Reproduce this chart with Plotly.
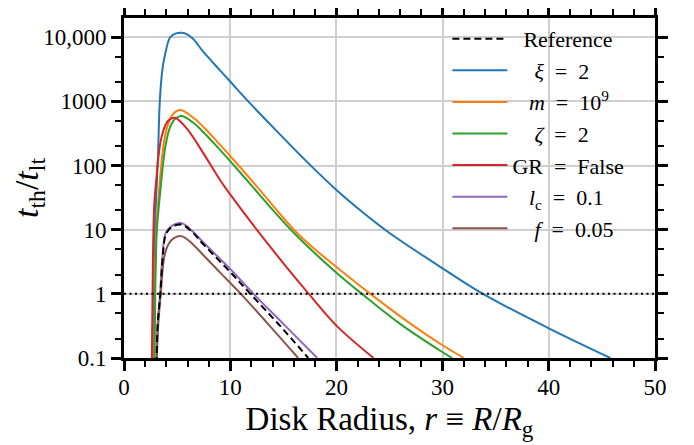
import plotly.graph_objects as go

# ---- data ----
x_xi = [2.73, 2.82, 2.95, 3.08, 3.2, 3.37, 3.6, 3.85, 4.35, 4.9, 5.44, 5.91, 6.5, 7.48, 9.06, 10, 11.7, 14, 17.4, 20, 22.5, 25, 30, 33.8, 40, 45.8]
y_xi = [0.08, 1, 16, 50, 140, 1000, 3000, 5250, 10000, 11500, 11750, 11200, 9450, 5900, 3020, 2040, 1000, 400, 107, 41.7, 18.6, 8.9, 2.5, 1.0, 0.29, 0.1]

x_m = [2.84, 2.93, 3.05, 3.3, 3.71, 4.07, 4.6, 5.3, 6.5, 7.48, 9.06, 10, 12, 14, 16, 18, 20, 23.2, 26.5, 30, 32.0]
y_m = [0.08, 2, 10, 40, 200, 400, 630, 733, 562, 398, 209, 141, 59, 24, 10, 4.9, 2.63, 1, 0.39, 0.158, 0.1]

x_zeta = [2.88, 2.97, 3.1, 3.42, 3.9, 4.35, 4.85, 5.44, 6.5, 7.48, 9.06, 10, 12, 14, 16, 18, 20, 22.4, 26, 30, 30.9]
y_zeta = [0.08, 2, 10, 40, 200, 400, 540, 590, 468, 331, 174, 117, 49, 20.4, 8.9, 4.27, 2.14, 1, 0.34, 0.123, 0.1]

x_gr = [2.62, 2.72, 2.85, 3.05, 3.25, 3.5, 3.93, 4.3, 4.8, 5.9, 7.48, 9.06, 10, 12.5, 14.9, 17.4, 20, 23.5]
y_gr = [0.08, 3.2, 25, 63, 140, 263, 437, 525, 556, 380, 155, 59, 35.5, 10, 3.16, 1, 0.32, 0.1]

x_lc = [3.05, 3.17, 3.4, 3.62, 3.93, 4.5, 5.44, 6.5, 7.48, 10, 12.2, 15, 18.2]
y_lc = [0.08, 0.35, 1, 3.8, 8.9, 11.5, 12.6, 9.3, 6.3, 2.45, 1, 0.34, 0.1]

x_f = [3.08, 3.22, 3.46, 3.8, 4.2, 4.7, 5.44, 6.5, 7.48, 9.06, 11.0, 13.7, 16.4]
y_f = [0.08, 0.32, 1, 3.8, 6.0, 7.4, 7.9, 5.9, 4.0, 2.14, 1, 0.32, 0.1]

x_ref = [3.06, 3.18, 3.42, 3.64, 3.95, 4.5, 5.44, 6.5, 7.48, 10, 11.9, 14.6, 17.35]
y_ref = [0.08, 0.35, 1, 3.6, 8.5, 11, 12, 8.9, 5.9, 2.19, 1, 0.33, 0.1]

threshold = 1

y_tickvals = [0.1, 1, 10, 100, 1000, 10000]
y_ticktext = ["0.1", "1", "10", "100", "1000", "10,000"]
x_tickvals = [0, 10, 20, 30, 40, 50]

series = [
    ("<i>ξ</i>\u2002=\u20022", x_xi, y_xi, "#1f77b4", "\u00a0\u00a0\u00a0\u00a0"),
    ("<i>m</i>\u2002=\u200210<sup>9</sup>", x_m, y_m, "#ff7f0e", "\u00a0\u00a0\u00a0"),
    ("<i>ζ</i>\u2002=\u20022", x_zeta, y_zeta, "#2ca02c", "\u00a0\u00a0\u00a0\u00a0"),
    ("GR\u2002=\u2002False", x_gr, y_gr, "#d62728", ""),
    ("<i>l</i><sub>c</sub>\u2002=\u20020.1", x_lc, y_lc, "#9467bd", "\u00a0\u00a0\u00a0"),
    ("<i>f</i>\u2002=\u20020.05", x_f, y_f, "#8c564b", "\u00a0\u00a0\u00a0\u00a0"),
]

FONT = "Liberation Serif"

fig = go.Figure()
for i, (name, xs, ys, col, pad) in enumerate(series):
    fig.add_trace(go.Scatter(
        x=xs, y=ys, mode="lines", name=pad + name,
        line=dict(color=col, width=2, shape="spline", smoothing=1.0),
        legendrank=i + 2,
    ))
fig.add_trace(go.Scatter(
    x=x_ref, y=y_ref, mode="lines", name="\u00a0\u00a0Reference",
    line=dict(color="black", width=2, dash="7px,4px", shape="spline", smoothing=1.0),
    legendrank=1,
))

fig.add_hline(y=threshold, line=dict(color="black", width=2, dash="2px,3.5px"), layer="above")

axis_common = dict(
    showline=True, linecolor="black", linewidth=3, mirror="allticks",
    ticks="outside", tickcolor="black", tickwidth=2.5, ticklen=10,
    showgrid=True, gridcolor="#cfcfcf", gridwidth=1.6, zeroline=False,
    tickfont=dict(family=FONT, size=23, color="black"),
    automargin=False,
)

fig.update_xaxes(
    range=[0, 50], tickvals=x_tickvals, ticklabelstandoff=-4,
    minor=dict(dtick=2, ticks="outside", ticklen=6, tickwidth=2, tickcolor="black", showgrid=False),
    title=dict(text="Disk Radius, <i>r</i> ≡ <i>R</i>/<i>R</i><sub>g</sub>",
               font=dict(family=FONT, size=33, color="black"), standoff=9),
    **axis_common,
)
fig.update_yaxes(
    type="log", range=[-1, 4.3], tickvals=y_tickvals, ticktext=y_ticktext,
    minor=dict(ticks="outside", ticklen=6, tickwidth=2, tickcolor="black", showgrid=False),
    title=dict(text="<i>t</i><sub>th</sub>/<i>t</i><sub>lt</sub>",
               font=dict(family=FONT, size=34, color="black"), standoff=3),
    **axis_common,
)

# the page places the figure 8 px in from the top-left corner of the window
fig.update_layout(
    width=686, height=437,
    margin=dict(l=116, r=39, t=10, b=87),
    paper_bgcolor="white", plot_bgcolor="white",
    showlegend=True,
    legend=dict(
        x=0.609, y=0.318, xanchor="left", yanchor="bottom",
        bgcolor="rgba(0,0,0,0)", borderwidth=0,
        font=dict(family=FONT, size=22, color="black"),
        itemwidth=55, tracegroupgap=0,
    ),
)

fig.write_html("out.html")
